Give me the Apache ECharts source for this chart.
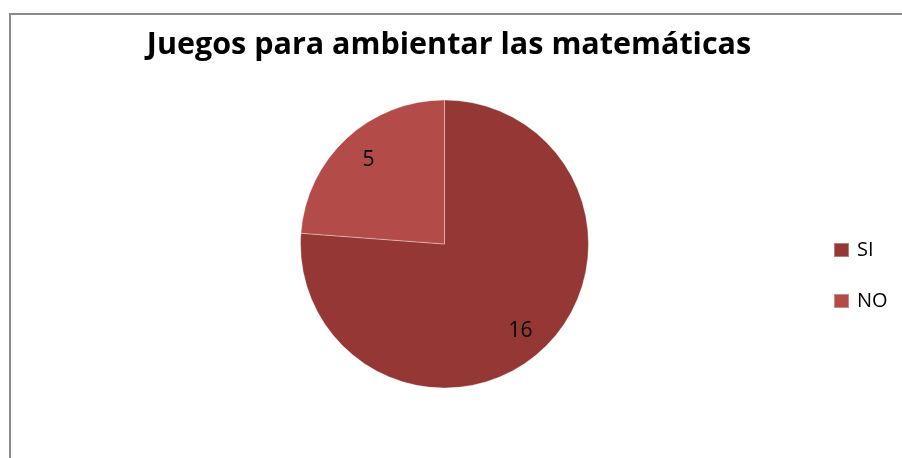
<!DOCTYPE html>
<html>
<head>
<meta charset="utf-8">
<style>
  html, body { margin: 0; padding: 0; background: #fff; }
  #frame { position: absolute; left: 9px; top: 13px; width: 900px; height: 460px;
           border-left: 2px solid #8c8c8c; border-top: 2px solid #8c8c8c; box-sizing: border-box; }
  #chart { position: absolute; left: 0; top: 0; width: 902px; height: 458px; }
</style>
<script src="https://cdn.jsdelivr.net/npm/echarts@6/dist/echarts.min.js"></script>
</head>
<body>
<div id="frame"></div>
<div id="chart"></div>
<script>
// Survey answers
const categories = ['SI', 'NO'];
const counts = [16, 5];
const sliceColors = ['#953735', '#b34b48'];

const pieData = categories.map((name, i) => ({
  name,
  value: counts[i],
  itemStyle: { color: sliceColors[i] }
}));

// small nudges so the value labels sit where the slice text usually goes
const labelNudge = [[-3, 2], [3, 1]];

const center = [444.5, 244];
const chart = echarts.init(document.getElementById('chart'), null, { renderer: 'canvas' });

chart.setOption({
  animation: false,
  backgroundColor: 'transparent',
  title: {
    text: 'Juegos para ambientar las matemáticas',
    left: 449,
    textAlign: 'center',
    top: 30,
    padding: 0,
    textStyle: { fontFamily: 'Open Sans', fontWeight: 'bold', fontSize: 30.5, color: '#000' }
  },
  legend: {
    orient: 'vertical',
    left: 833,
    top: 240,
    padding: 0,
    itemWidth: 15,
    itemHeight: 14,
    itemGap: 31,
    icon: 'rect',
    data: categories,
    textStyle: { fontFamily: 'Open Sans', fontSize: 20, lineHeight: 20, color: '#000', padding: [0, 0, 0, 3] }
  },
  series: [
    {
      type: 'pie',
      center: center,
      radius: [0, 144],
      startAngle: 90,
      clockwise: true,
      silent: true,
      label: { show: false },
      labelLine: { show: false },
      itemStyle: { borderColor: 'rgba(255,255,255,0.35)', borderWidth: 1 },
      data: pieData
    },
    {
      // value labels, placed part-way out along each slice
      type: 'pie',
      center: center,
      radius: [82, 144],
      startAngle: 90,
      clockwise: true,
      silent: true,
      legendHoverLink: false,
      itemStyle: { color: 'rgba(0,0,0,0)', borderWidth: 0 },
      label: {
        show: true,
        position: 'inside',
        formatter: '{c}',
        fontFamily: 'Open Sans',
        fontSize: 21,
        color: '#000'
      },
      labelLine: { show: false },
      data: pieData.map((d, i) => ({ name: d.name, value: d.value, label: { offset: labelNudge[i] } }))
    }
  ]
});
</script>
</body>
</html>
